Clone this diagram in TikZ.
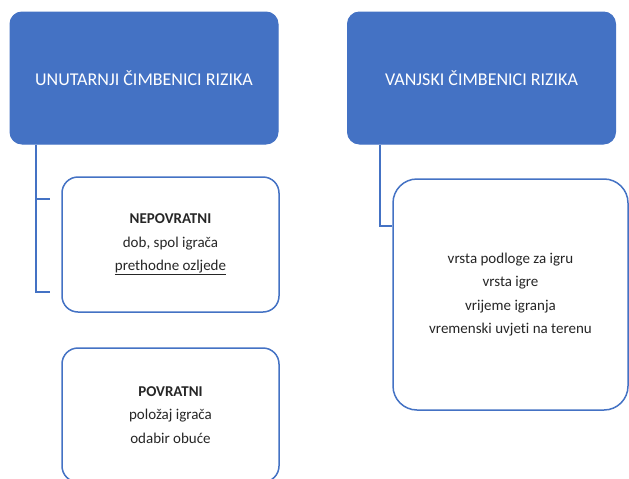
\documentclass[tikz,border=0pt]{standalone}
\usepackage{fontspec}
\setmainfont{Carlito}[Ligatures=NoCommon]
\usepackage{xcolor}
\usetikzlibrary{positioning}
\definecolor{plava}{HTML}{4472C4}
\definecolor{tekst}{HTML}{262626}
\tikzset{
  glavni/.style={draw=plava, fill=plava, line width=1pt, rounded corners=12pt,
    minimum width=268pt, minimum height=132pt, text=white, font=\fontsize{18}{21}\selectfont},
  podbox/.style={draw=plava, fill=white, line width=1.5pt, rounded corners=16pt,
    text=tekst, align=center, font=\fontsize{15}{23.5}\selectfont},
  veza/.style={draw=plava, line width=1.5pt}
}
\begin{document}
\begin{tikzpicture}[x=1pt,y=-1pt]
                \useasboundingbox (0,0) rectangle (629,479);
                \node[glavni] (unutarnji) at (144,78) {UNUTARNJI ČIMBENICI RIZIKA};
                \node[glavni] (vanjski) at (481.5,78) {VANJSKI ČIMBENICI RIZIKA};
                \node[podbox, minimum width=217pt, minimum height=135pt] (nepovratni) at (170.5,244.5)
                    {\textbf{NEPOVRATNI}\\dob, spol igrača\\\underline{prethodne ozljede}};
                \node[podbox, minimum width=217pt, minimum height=134pt] (povratni) at (170.5,415)
                    {\textbf{POVRATNI}\\položaj igrača\\odabir obuće};
                \node[podbox, rounded corners=24pt, minimum width=235pt, minimum height=231pt] (vrsta) at (510.5,294.5)
                    {vrsta podloge za igru\\vrsta igre\\vrijeme igranja\\vremenski uvjeti na terenu};
                % veze
                \coordinate (l1) at (36,199);
                \coordinate (l2) at (36,292);
                \coordinate (d1) at (380,226);
                \draw[veza] (unutarnji.south -| l1) -- (l2) -- ++(14,0);
                \draw[veza] (l1) -- ++(14,0);
                \draw[veza] (vanjski.south -| d1) -- (d1) -- (vrsta.west |- d1);
            \end{tikzpicture}
\end{document}
